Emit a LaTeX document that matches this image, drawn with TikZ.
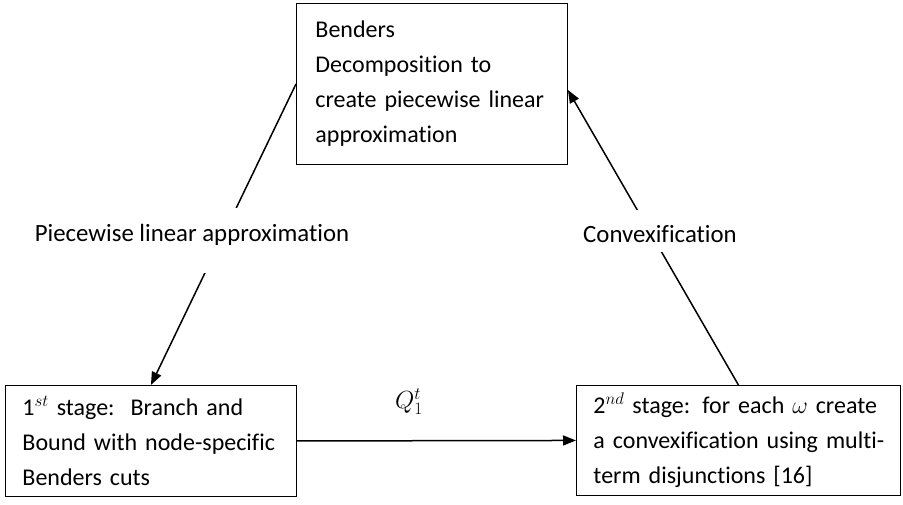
\RequirePackage{fix-cm}
\documentclass[tikz,border=0pt]{standalone}
\usepackage{fontspec}
\setmainfont{Carlito}[Ligatures={NoCommon}]
\usetikzlibrary{arrows.meta,calc}
\begin{document}
\begin{tikzpicture}[x=1pt,y=-1pt,
  box/.style={draw, line width=0.9pt, anchor=north west, align=left, inner xsep=0pt, inner ysep=0pt, font=\fontsize{24}{35}\selectfont},
  conn/.style={line width=1.5pt, -{Triangle[length=13pt,width=10pt]}},
  lbl/.style={font=\fontsize{24.8}{26}\selectfont},
  gapbox/.style={fill=white, inner sep=0pt}]
\useasboundingbox (0,0) rectangle (903,504);
\node[box, text width=233pt, inner xsep=19pt, minimum width=271pt, minimum height=161pt] (top) at (296,3)
  {\mbox{Benders}\\\mbox{Decomposition to}\\\mbox{create piecewise linear}\\\mbox{approximation}};
\node[box, text width=257pt, inner xsep=17pt, minimum width=291pt, minimum height=111pt] (left) at (5,385)
  {\mbox{1$^{st}$ stage:\ \ Branch and}\\\mbox{Bound with node-specific}\\\mbox{Benders cuts}};
\node[box, text width=290pt, inner xsep=17pt, minimum width=324pt, minimum height=110pt] (right) at (576,385)
  {\mbox{2$^{nd}$ stage: for each $\omega$ create}\\\mbox{a convexification using multi-}\\\mbox{term disjunctions [16]}};
\draw[conn] (top.west) -- (left.north);
\draw[conn] (left.east) -- (right.west);
\draw[conn] (right.north) -- ($(top.east)+(0,6)$);
\node[gapbox, minimum width=330pt, minimum height=65pt] (gapL) at (192,240.5) {};
\node[lbl] (lblL) at (192,235) {Piecewise linear approximation};
\node[gapbox, minimum width=165pt, minimum height=42pt] (gapR) at (660,231) {};
\node[lbl] (lblR) at (660,234) {Convexification};
\node[lbl] (q) at (409,402) {$Q_1^t$};
\end{tikzpicture}
\end{document}
